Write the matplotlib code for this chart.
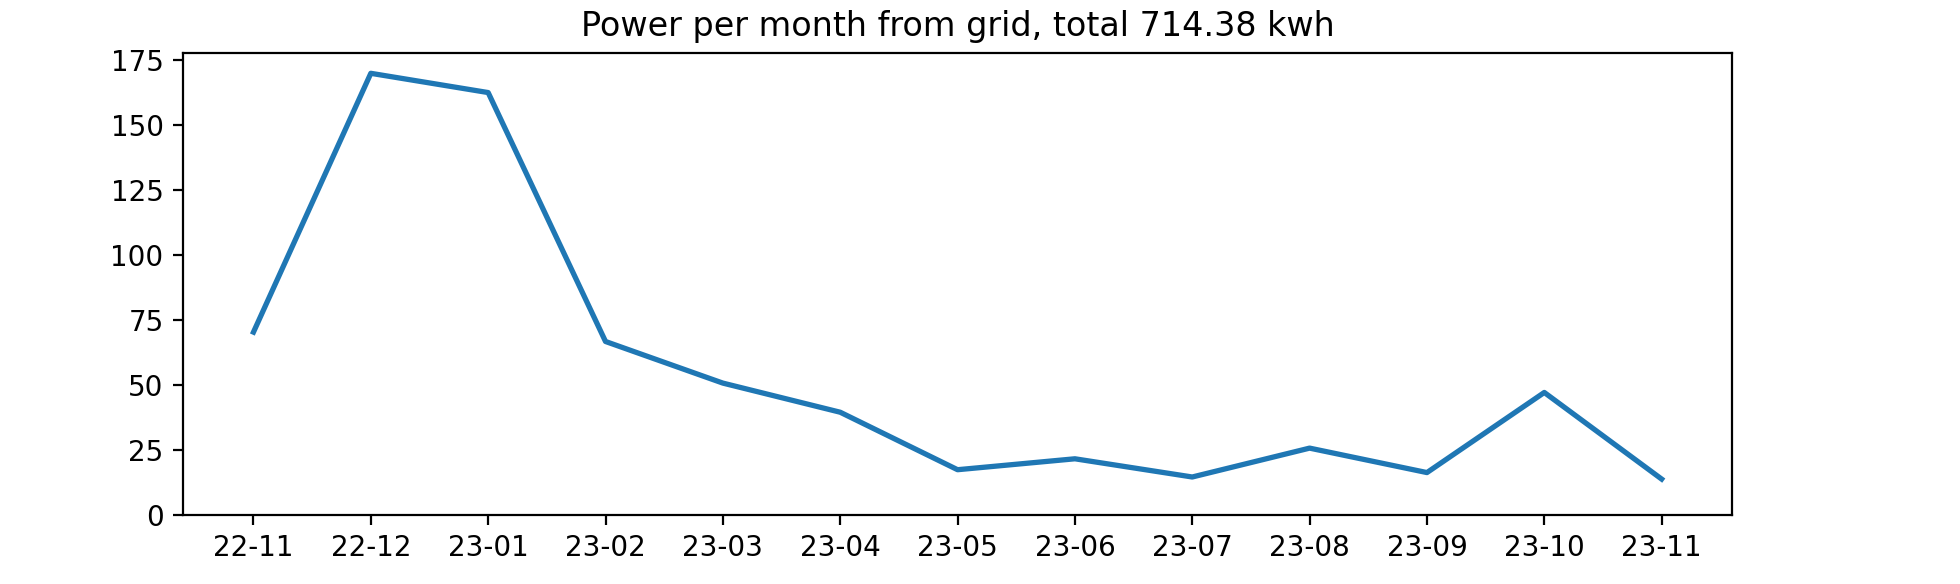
import matplotlib
matplotlib.use("Agg")
import matplotlib.pyplot as plt

# Monatswerte (kWh) aus dem Netz
months = ["22-11", "22-12", "23-01", "23-02", "23-03", "23-04", "23-05",
          "23-06", "23-07", "23-08", "23-09", "23-10", "23-11"]
kwh = [70.3, 169.8, 162.4, 66.7, 50.7, 39.5, 17.4,
       21.6, 14.6, 25.7, 16.3, 47.1, 13.8]
total = 714.38

fig = plt.figure(figsize=(9.8, 2.92), dpi=200)
ax = fig.add_axes([0.0934, 0.1182, 0.7903, 0.7910])
ax.plot(months, kwh, linewidth=1.9)
ax.set_ylim(bottom=0)
ax.set_title(f"Power per month from grid, total {total} kwh")

fig.savefig("out.png", dpi=200)
